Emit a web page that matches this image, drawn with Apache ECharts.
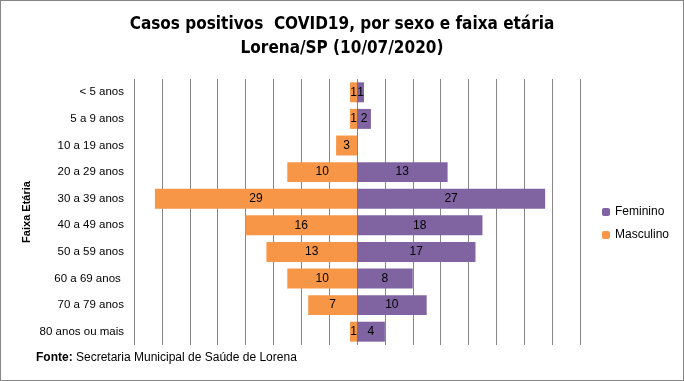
<!DOCTYPE html>
<html>
<head>
<meta charset="utf-8">
<script src="https://cdn.jsdelivr.net/npm/echarts@6/dist/echarts.min.js"></script>
<style>
html,body{margin:0;padding:0;background:#fff;}
#frame{position:absolute;left:0;top:0;width:682px;height:379px;border:1px solid #868686;}
#chart{width:684px;height:381px;position:absolute;left:0;top:0;}
</style>
</head>
<body>
<div id="frame"></div>
<div id="chart"></div>
<script>
const categories = ['< 5 anos','5 a 9 anos','10 a 19 anos','20 a 29 anos','30 a 39 anos','40 a 49 anos','50 a 59 anos','60 a 69 anos ','70 a 79 anos','80 anos ou mais'];
const masculino = [1,1,3,10,29,16,13,10,7,1];
const feminino = [1,2,0,13,27,18,17,8,10,4];
const titleLines = ['Casos positivos  COVID19, por sexo e faixa etária','Lorena/SP (10/07/2020)'];
const axisTitle = 'Faixa Etária';
const sourceBold = 'Fonte:';
const sourceText = ' Secretaria Municipal de Saúde de Lorena';

const F = "'Liberation Sans', Arial, sans-serif";
const FN = "'Liberation Sans Narrow', 'DejaVu Sans Condensed', sans-serif";
const chart = echarts.init(document.getElementById('chart'), null, {renderer:'canvas'});
const lbl = {
  show:true, position:'inside', color:'#000', fontFamily:F, fontSize:12,
  formatter: p => (p.value === 0 ? '' : String(Math.abs(p.value)))
};
chart.setOption({
  animation:false,
  title:{
    text: titleLines.join('\n'), left:'center', top:8,
    textStyle:{fontFamily:FN, fontWeight:'bold', fontSize:17, color:'#000', lineHeight:24}
  },
  legend:{
    orient:'vertical', left:597, top:201, itemWidth:8, itemHeight:8, itemGap:11,
    data:['Feminino','Masculino'],
    textStyle:{fontFamily:F, fontSize:12, color:'#000'}
  },
  grid:{left:134, right:104, top:79, bottom:36},
  xAxis:{
    type:'value', min:-32, max:32, interval:4,
    axisLabel:{show:false}, axisLine:{show:false}, axisTick:{show:false},
    splitLine:{show:true, lineStyle:{color:'#868686', width:1}}
  },
  yAxis:{
    type:'category', inverse:true, data:categories,
    axisLine:{show:false}, axisTick:{show:false},
    axisLabel:{margin:10, fontFamily:F, fontSize:11.5, color:'#000'}
  },
  graphic:[
    {type:'text', x:27, y:212, rotation:Math.PI/2,
     style:{text:axisTitle, fontFamily:F, fontWeight:'bold', fontSize:11, fill:'#000', align:'center', verticalAlign:'middle'}},
    {type:'text', left:36, top:352,
     style:{text:'{b|'+sourceBold+'}{n|'+sourceText+'}', rich:{
        b:{fontFamily:F, fontWeight:'bold', fontSize:12, fill:'#000', color:'#000'},
        n:{fontFamily:F, fontSize:12, fill:'#000', color:'#000'}}}}
  ],
  series:[
    {name:'Masculino', type:'bar', stack:'s', barCategoryGap:'25%',
     data: masculino.map(v=>-v), itemStyle:{color:'#F79646'}, label:lbl},
    {name:'Feminino', type:'bar', stack:'s', barCategoryGap:'25%',
     data: feminino, itemStyle:{color:'#8064A2'}, label:lbl}
  ]
});
</script>
</body>
</html>
